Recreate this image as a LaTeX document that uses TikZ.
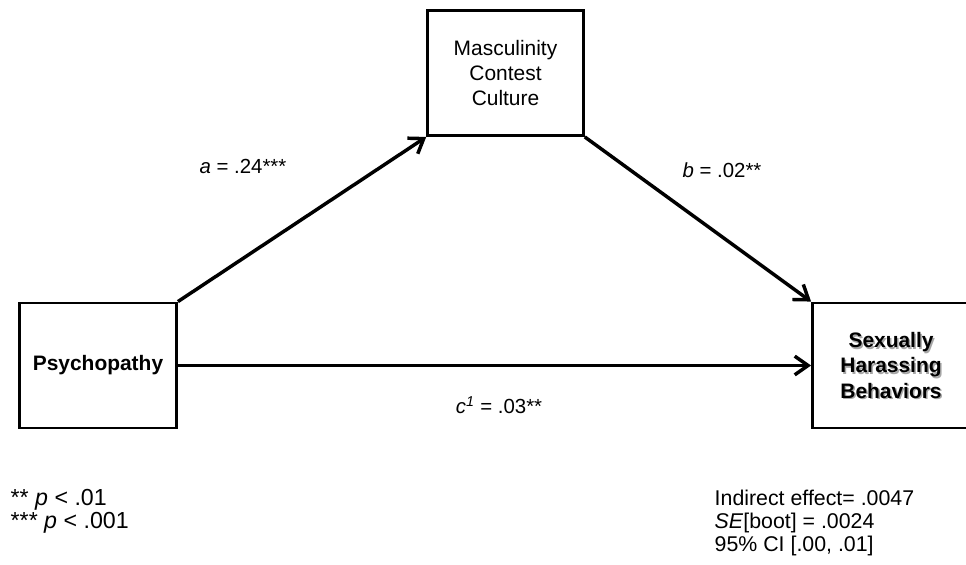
\documentclass[tikz,border=0pt]{standalone}
\usepackage{fontspec}
\setmainfont{Liberation Sans}
\usetikzlibrary{arrows.meta,positioning}

\tikzset{
  varbox/.style={draw,line width=1.9pt,minimum width=118pt,minimum height=94pt,
    align=center,font=\fontsize{15.7}{18.8}\selectfont},
  path/.style={line width=2.6pt,-{Straight Barb[length=10pt,width=14pt,line width=2.6pt]}},
  coef/.style={font=\fontsize{15.3}{18}\selectfont},
  note/.style={align=left,anchor=west,font=\fontsize{17.4}{17.3}\selectfont}
}

\begin{document}
\begin{tikzpicture}[x=0.75pt,y=-0.75pt]
  \useasboundingbox (0,0) rectangle (966,564);
  \clip (0,0) rectangle (966,564);
  % variables
  \node[varbox] (psy) at (98,365.5) {\textbf{Psychopathy}};
  \node[varbox,minimum width=117pt] (mcc) at (505.5,73) {Masculinity\\Contest\\Culture};
  \node[varbox,draw=none,text=black!35] (shbs) at (892.5,367) {\textbf{Sexually}\\\textbf{Harassing}\\\textbf{Behaviors}};
  \node[varbox] (shb) at (891,365.5) {\textbf{Sexually}\\\textbf{Harassing}\\\textbf{Behaviors}};
  % paths
  \draw[path] (psy.north east) -- (mcc.south west);
  \draw[path] (mcc.south east) -- (shb.north west);
  \draw[path] (psy.east) -- (shb.west);
  \node[coef] (a) at (243,166) {\textit{a} = .24***};
  \node[coef] (b) at (722,170) {\textit{b} = .02**};
  \node[coef] (c) at (499,405) {\textit{c}\textsuperscript{\textit{1}} = .03**};
  % notes
  \node[note] (sig) at (6,511) {** \textit{p} < .01\\*** \textit{p} < .001};
  \node[note,font=\fontsize{16}{17.3}\selectfont] (ind) at (710,523) {Indirect effect= .0047\\\textit{SE}[boot] = .0024\\95\% CI [.00, .01]};
\end{tikzpicture}
\end{document}
